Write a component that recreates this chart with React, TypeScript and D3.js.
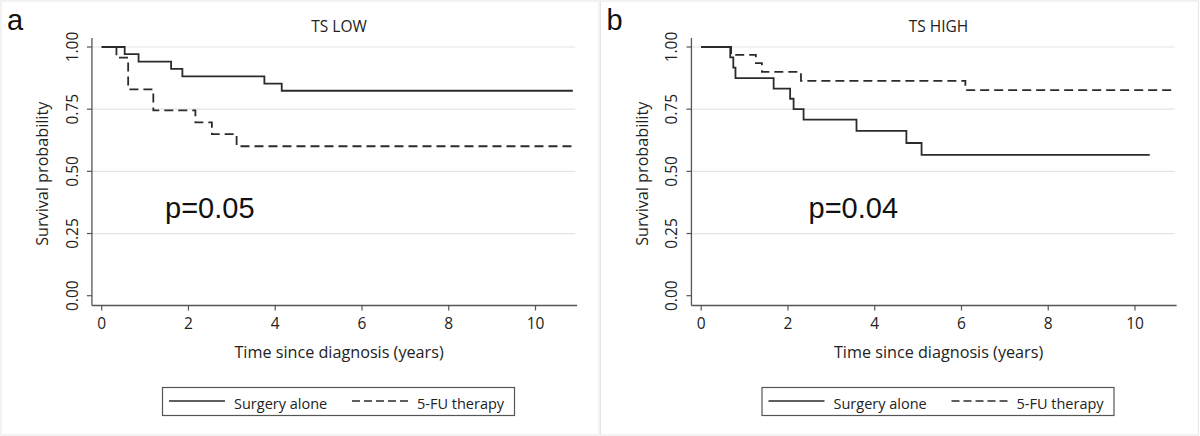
import React from "react";
import * as d3 from "d3";

// ---- Data ----
const xTicks = [0, 2, 4, 6, 8, 10];
const yTicks = [0, 0.25, 0.5, 0.75, 1];
const yTickLabels = ["0.00", "0.25", "0.50", "0.75", "1.00"];
const gridValues = [0.25, 0.5, 0.75, 1];
const seriesNames = ["Surgery alone", "5-FU therapy"];

// Panel a: TS LOW
const lowSurgeryTimes = [0.53, 0.85, 1.6, 1.86, 3.75, 4.15];
const lowSurgerySurv = [0.971, 0.941, 0.912, 0.882, 0.853, 0.824];
const lowSurgeryEnd = 10.86;
const lowFuTimes = [0.34, 0.61, 1.19, 2.16, 2.54, 3.11];
const lowFuSurv = [0.957, 0.83, 0.745, 0.697, 0.65, 0.601];
const lowFuEnd = 10.86;

// Panel b: TS HIGH
const highSurgeryTimes = [0.67, 0.74, 0.79, 1.67, 2.05, 2.13, 2.36, 3.58, 4.73, 5.08];
const highSurgerySurv = [0.958, 0.917, 0.875, 0.833, 0.792, 0.75, 0.708, 0.663, 0.614, 0.566];
const highSurgeryEnd = 10.34;
const highFuTimes = [0.69, 1.26, 1.4, 2.3, 6.09];
const highFuSurv = [0.968, 0.935, 0.9, 0.864, 0.827];
const highFuEnd = 10.84;

const panels = [
  {
    letter: "a",
    title: "TS LOW",
    pText: "p=0.05",
    pX: 165,
    offset: 0,
    surgery: { times: lowSurgeryTimes, surv: lowSurgerySurv, end: lowSurgeryEnd },
    fu: { times: lowFuTimes, surv: lowFuSurv, end: lowFuEnd },
  },
  {
    letter: "b",
    title: "TS HIGH",
    pText: "p=0.04",
    pX: 209,
    offset: 599.5,
    surgery: { times: highSurgeryTimes, surv: highSurgerySurv, end: highSurgeryEnd },
    fu: { times: highFuTimes, surv: highFuSurv, end: highFuEnd },
  },
];

const W = 1200;
const H = 436;
const sansUI = "'Open Sans', 'DejaVu Sans', sans-serif";
const sansArial = "'Liberation Sans', Arial, sans-serif";
const axisColor = "#555";
const lineColor = "#2b2b2b";

function toPoints(s: { times: number[]; surv: number[]; end: number }) {
  const pts: [number, number][] = [[0, 1]];
  s.times.forEach((t, i) => pts.push([t, s.surv[i]]));
  pts.push([s.end, s.surv[s.surv.length - 1]]);
  return pts;
}

function Panel({ p }: { p: (typeof panels)[number] }) {
  const x = d3.scaleLinear().domain([0, 10]).range([101.7, 535.5]);
  const y = d3.scaleLinear().domain([0, 1]).range([295.7, 47]);
  const axisLeft = x(-0.225);
  const axisRight = x(10.96);
  const axisBottom = 305.5;
  const axisTop = y(1.036);
  const line = d3
    .line<[number, number]>()
    .x((d) => x(d[0]))
    .y((d) => y(d[1]))
    .curve(d3.curveStepAfter);
  const cx = (axisLeft + axisRight) / 2 + 4.5;
  return (
    <g transform={`translate(${p.offset},0)`}>
      <rect x={1} y={1} width={598} height={434} fill="#fff" stroke="#e6e6e6" strokeWidth={1} />
      <text x={7} y={30} fontFamily={sansArial} fontSize={29} fill="#111">
        {p.letter}
      </text>
      <text x={cx} y={32} textAnchor="middle" fontFamily={sansUI} fontSize={15.5} fill="#222">
        {p.title}
      </text>
      {gridValues.map((g) => (
        <line key={g} x1={axisLeft} x2={axisRight - 2} y1={y(g)} y2={y(g)} stroke="#e4e4e4" strokeWidth={1.2} />
      ))}
      {/* axes */}
      <line x1={axisLeft} x2={axisLeft} y1={axisTop} y2={axisBottom} stroke={axisColor} strokeWidth={1.3} />
      <line x1={axisLeft} x2={axisRight} y1={axisBottom} y2={axisBottom} stroke={axisColor} strokeWidth={1.3} />
      {yTicks.map((t, i) => (
        <g key={t}>
          <line x1={axisLeft - 5} x2={axisLeft} y1={y(t)} y2={y(t)} stroke={axisColor} strokeWidth={1.2} />
          <text
            transform={`translate(${axisLeft - 14},${y(t)}) rotate(-90)`}
            textAnchor="middle"
            fontFamily={sansUI}
            fontSize={15.5}
            fill="#222"
          >
            {yTickLabels[i]}
          </text>
        </g>
      ))}
      {xTicks.map((t) => (
        <g key={t}>
          <line x1={x(t)} x2={x(t)} y1={axisBottom} y2={axisBottom + 5} stroke={axisColor} strokeWidth={1.2} />
          <text x={x(t)} y={329} textAnchor="middle" fontFamily={sansUI} fontSize={15.5} fill="#222">
            {t}
          </text>
        </g>
      ))}
      <text x={cx} y={358} textAnchor="middle" fontFamily={sansUI} fontSize={16.2} fill="#222">
        Time since diagnosis (years)
      </text>
      <text
        transform={`translate(48,${(axisTop + axisBottom) / 2 + 2}) rotate(-90)`}
        textAnchor="middle"
        fontFamily={sansUI}
        fontSize={16.2}
        fill="#222"
      >
        Survival probability
      </text>
      {/* curves */}
      <path d={line(toPoints(p.surgery)) || ""} fill="none" stroke={lineColor} strokeWidth={1.8} />
      <path
        d={line(toPoints(p.fu)) || ""}
        fill="none"
        stroke={lineColor}
        strokeWidth={1.8}
        strokeDasharray="9 5"
      />
      <text x={p.pX} y={218} fontFamily={sansArial} fontSize={29} fill="#111">
        {p.pText}
      </text>
      {/* legend */}
      <rect x={162.5} y={387.5} width={352} height={28} fill="#fff" stroke={axisColor} strokeWidth={1.2} />
      <line x1={169} x2={225} y1={401} y2={401} stroke={lineColor} strokeWidth={1.6} />
      <text x={234} y={408.5} fontFamily={sansUI} fontSize={14.5} fill="#222">
        {seriesNames[0]}
      </text>
      <line x1={352} x2={408} y1={401} y2={401} stroke={lineColor} strokeWidth={1.6} strokeDasharray="8 4" />
      <text x={417} y={408.5} fontFamily={sansUI} fontSize={14.5} fill="#222">
        {seriesNames[1]}
      </text>
    </g>
  );
}

export default function App() {
  return (
    <svg
      width={W}
      height={H}
      style={{ position: "fixed", left: 0, top: 0, background: "#fff" }}
      xmlns="http://www.w3.org/2000/svg"
    >
      <rect x={0} y={0} width={W} height={H} fill="#fff" />
      {panels.map((p) => (
        <Panel key={p.letter} p={p} />
      ))}
    </svg>
  );
}
